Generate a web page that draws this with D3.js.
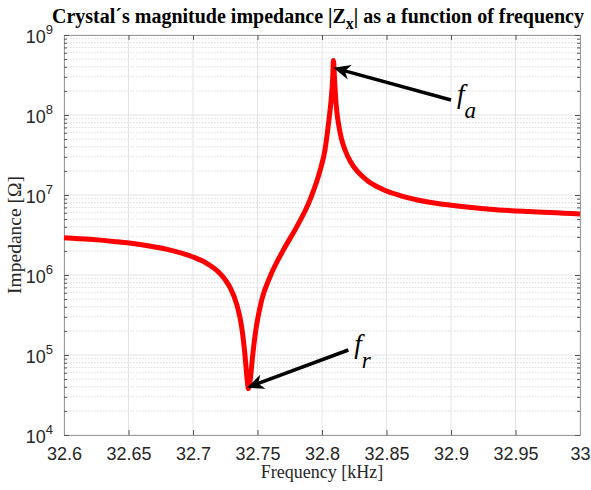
<!DOCTYPE html>
<html><head><meta charset="utf-8">
<script src="https://cdn.jsdelivr.net/npm/d3@7"></script>
<style>body{margin:0;background:#fff}</style>
</head><body>
<svg id="chart" width="591" height="490"></svg>
<script>
// ---- data ----
const frequencyKHz = [32.60,32.62,32.64,32.66,32.68,32.70,32.71,32.72,32.725,32.7287,32.7339,32.7378,32.7403,32.7421,32.7429,32.7442,32.7463,32.7488,32.7533,32.7597,32.77,32.7804,32.7907,32.7984,32.8023,32.8049,32.807,32.8082,32.8089,32.8097,32.8105,32.8115,32.813,32.815,32.818,32.822,32.828,32.836,32.846,32.86,32.88,32.90,32.93,32.96,33.00];
const impedanceOhm = [2.93e6,2.79e6,2.61e6,2.39e6,2.09e6,1.68e6,1.42e6,1.08e6,8.7e5,7.0e5,4.3e5,2.2e5,1.0e5,4.7e4,3.8e4,4.7e4,1.0e5,2.1e5,4.9e5,9.5e5,2.05e6,4.0e6,8.7e6,2.0e7,3.65e7,7.5e7,1.5e8,2.7e8,4.8e8,2.85e8,1.7e8,1.1e8,7.4e7,5.1e7,3.6e7,2.62e7,1.93e7,1.48e7,1.2e7,9.9e6,8.3e6,7.45e6,6.65e6,6.2e6,5.8e6];
const xTickValues = [32.6,32.65,32.7,32.75,32.8,32.85,32.9,32.95,33];
const xTickLabels = ["32.6","32.65","32.7","32.75","32.8","32.85","32.9","32.95","33"];
const yTickExponents = [4,5,6,7,8,9];
const titleParts = ["Crystal\u00b4s magnitude impedance |Z", "x", "| as a function of frequency"];
const xLabel = "Frequency [kHz]";
const yLabel = "Impedance [\u03a9]";
// annotations: arrow heads and tails in data coordinates
const annMain = ["f","f"];
const annSub = ["a","r"];
const annHeadF = [32.8088, 32.7418];
const annHeadZ = [3.9e8, 3.9e4];
const annTailF = [32.90, 32.8204];
const annTailZ = [1.54e8, 1.155e5];

// ---- layout ----
const W = 591, H = 490;
const m = {left:64, right:11, top:35, bottom:55};
const svg = d3.select("#chart");
const x = d3.scaleLinear().domain([32.6,33]).range([m.left, W-m.right]);
const y = d3.scaleLog().domain([1e4,1e9]).range([H-m.bottom, m.top]);
const x0 = m.left, x1 = W-m.right, y0 = H-m.bottom, y1 = m.top;

const g = svg.append("g");
// minor y grid
const minorVals = [];
yTickExponents.slice(0,-1).forEach(e => { for (let k=2;k<=9;k++) minorVals.push(k*Math.pow(10,e)); });
g.selectAll("line.minor").data(minorVals).enter().append("line")
  .attr("x1",x0).attr("x2",x1).attr("y1",d=>y(d)).attr("y2",d=>y(d))
  .attr("stroke","#d4d4d4").attr("stroke-width",0.8).attr("stroke-dasharray","1.5,1.5");
// major grid
g.selectAll("line.gx").data(xTickValues).enter().append("line")
  .attr("x1",d=>x(d)).attr("x2",d=>x(d)).attr("y1",y0).attr("y2",y1)
  .attr("stroke","#e4e4e4").attr("stroke-width",1);
g.selectAll("line.gy").data(yTickExponents.map(e=>Math.pow(10,e))).enter().append("line")
  .attr("x1",x0).attr("x2",x1).attr("y1",d=>y(d)).attr("y2",d=>y(d))
  .attr("stroke","#e4e4e4").attr("stroke-width",1);

// axes (inward ticks)
const axisColor = "#9a9a9a";
const xb = svg.append("g").attr("transform",`translate(0,${y0})`)
  .call(d3.axisBottom(x).tickValues(xTickValues).tickFormat((d,i)=>xTickLabels[i]).tickSizeInner(-5).tickSizeOuter(0).tickPadding(12));
const xt = svg.append("g").attr("transform",`translate(0,${y1})`)
  .call(d3.axisTop(x).tickValues(xTickValues).tickFormat("").tickSizeInner(-5).tickSizeOuter(0));
const yl = svg.append("g").attr("transform",`translate(${x0},0)`)
  .call(d3.axisLeft(y).tickValues(yTickExponents.map(e=>Math.pow(10,e))).tickFormat("").tickSizeInner(-5).tickSizeOuter(0));
const yr = svg.append("g").attr("transform",`translate(${x1},0)`)
  .call(d3.axisRight(y).tickValues(yTickExponents.map(e=>Math.pow(10,e))).tickFormat("").tickSizeInner(-5).tickSizeOuter(0));
const ylm = svg.append("g").attr("transform",`translate(${x0},0)`)
  .call(d3.axisLeft(y).tickValues(minorVals).tickFormat("").tickSizeInner(-3).tickSizeOuter(0));
const yrm = svg.append("g").attr("transform",`translate(${x1},0)`)
  .call(d3.axisRight(y).tickValues(minorVals).tickFormat("").tickSizeInner(-3).tickSizeOuter(0));
[xb,xt,yl,yr,ylm,yrm].forEach(a=>{
  a.select(".domain").attr("stroke",axisColor);
  a.selectAll(".tick line").attr("stroke","#555");
});
ylm.select(".domain").remove(); yrm.select(".domain").remove();
xb.selectAll(".tick text").attr("font-family","'Liberation Sans',Arial,sans-serif").attr("font-size",18).attr("fill","#262626");

// y tick labels 10^n
const ylab = svg.append("g");
yTickExponents.forEach(e => {
  const t = ylab.append("text").attr("x", x0-11).attr("y", y(Math.pow(10,e))+8)
    .attr("text-anchor","end").attr("font-family","'Liberation Sans',Arial,sans-serif")
    .attr("font-size",18).attr("fill","#262626");
  t.append("tspan").text("10");
  t.append("tspan").attr("dy",-9).attr("font-size",13).text(String(e));
});

// curve
const line = d3.line().x((d,i)=>x(frequencyKHz[i])).y(d=>y(d)).curve(d3.curveMonotoneX);
svg.append("path").datum(impedanceOhm).attr("d",line)
  .attr("fill","none").attr("stroke","#ff0000").attr("stroke-width",5)
  .attr("stroke-linejoin","bevel");

// annotations
annMain.forEach((s,i)=>{
  const hx = x(annHeadF[i]), hy = y(annHeadZ[i]);
  const tx = x(annTailF[i]), ty = y(annTailZ[i]);
  const ang = Math.atan2(hy-ty, hx-tx);
  svg.append("line").attr("x1",tx).attr("y1",ty)
    .attr("x2",hx-10*Math.cos(ang)).attr("y2",hy-10*Math.sin(ang))
    .attr("stroke","#000").attr("stroke-width",3.5);
  svg.append("path").attr("d","M0,0 L-17,-7.5 L-12,0 L-17,7.5 Z").attr("fill","#000")
    .attr("transform",`translate(${hx},${hy}) rotate(${ang*180/Math.PI})`);
  const t = svg.append("text").attr("x",tx+6).attr("y",ty+3)
    .attr("font-family","'Liberation Serif','Times New Roman',serif").attr("font-style","italic")
    .attr("font-size",27).attr("fill","#000");
  t.append("tspan").text(s);
  t.append("tspan").attr("dy",15).attr("font-size",23).text(annSub[i]);
});

// title
const tt = svg.append("text").attr("x",(x0+x1)/2-4).attr("y",23).attr("text-anchor","middle")
  .attr("font-family","'Liberation Serif','Times New Roman',serif").attr("font-weight","bold")
  .attr("font-size",20).attr("fill","#000");
tt.append("tspan").text(titleParts[0]);
tt.append("tspan").attr("dy",6).attr("font-size",16).text(titleParts[1]);
tt.append("tspan").attr("dy",-6).text(titleParts[2]);

// axis labels
svg.append("text").attr("x",(x0+x1)/2).attr("y",H-12).attr("text-anchor","middle")
  .attr("font-family","'Liberation Serif','Times New Roman',serif").attr("font-size",18)
  .attr("fill","#262626").text(xLabel);
svg.append("text").attr("transform",`translate(21,${(y0+y1)/2}) rotate(-90)`).attr("text-anchor","middle")
  .attr("font-family","'Liberation Serif','Times New Roman',serif").attr("font-size",19.5)
  .attr("fill","#262626").text(yLabel);
</script>
</body></html>
